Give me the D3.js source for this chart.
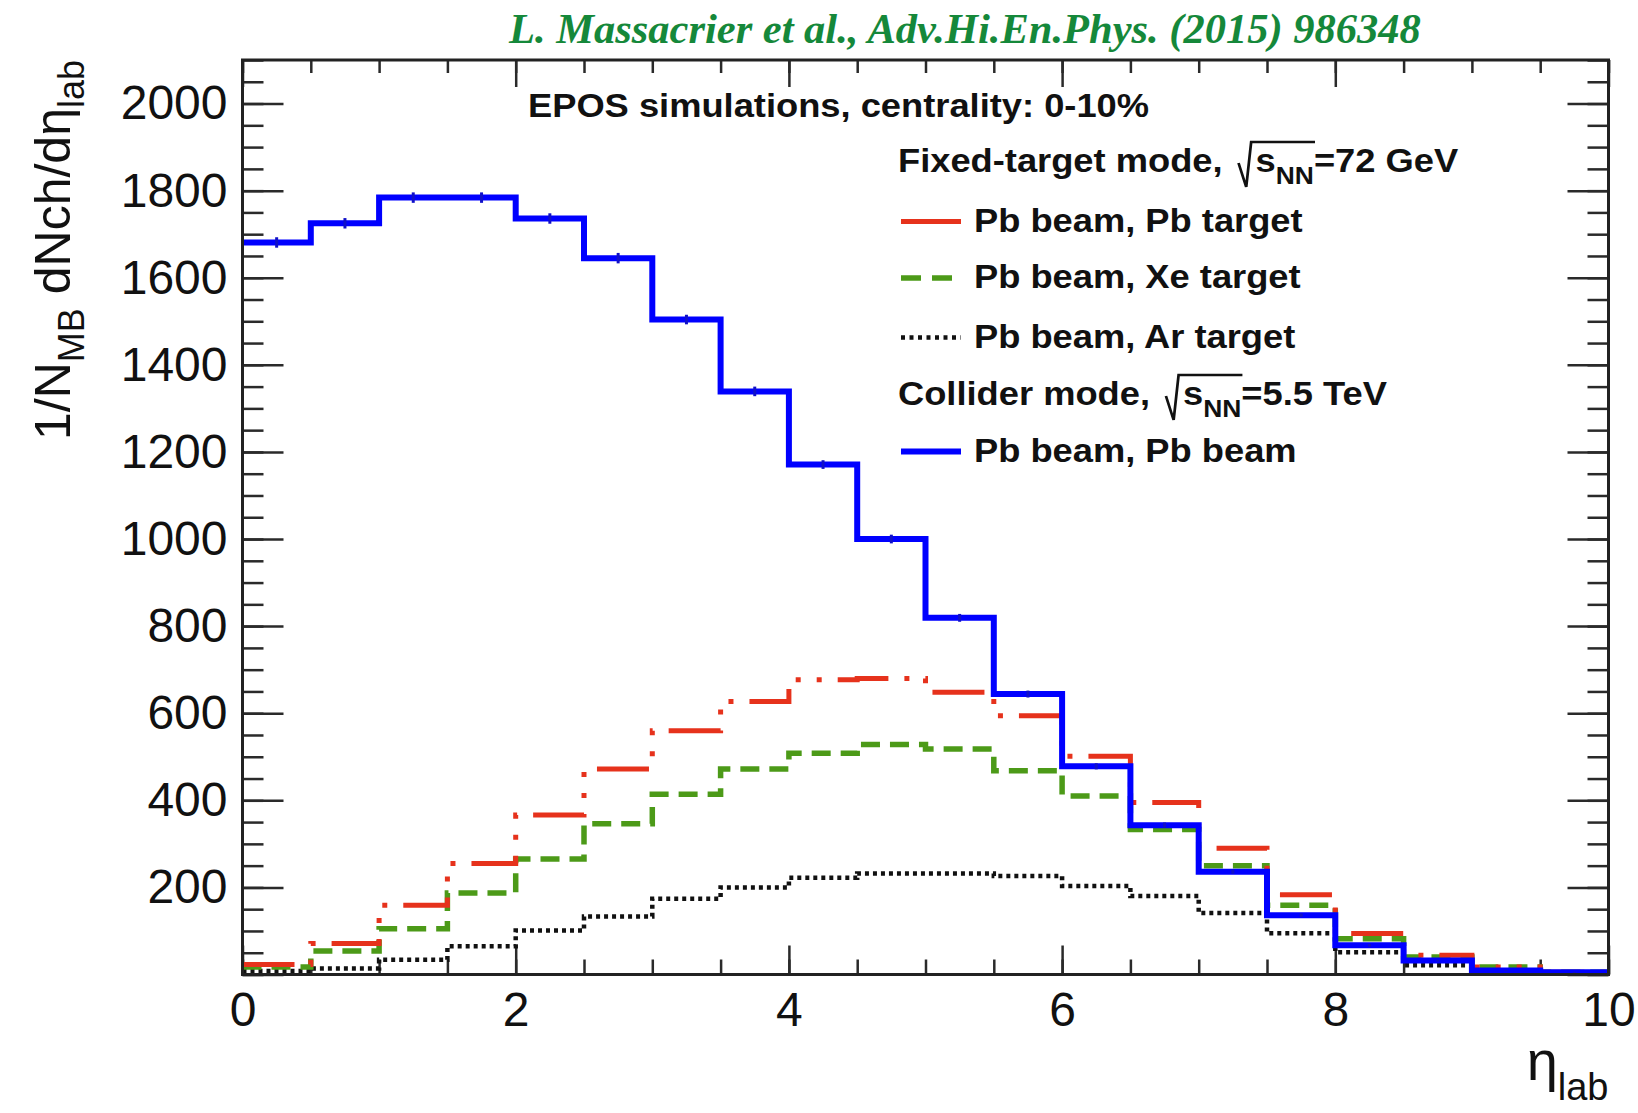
<!DOCTYPE html>
<html>
<head>
<meta charset="utf-8">
<script src="https://cdn.jsdelivr.net/npm/d3@7"></script>
<style>
body { margin: 0; background: #fff; }
</style>
</head>
<body>
<svg id="chart" width="1638" height="1113" font-family="Liberation Sans, Arial, Helvetica, sans-serif"></svg>
<script>
// EPOS, centrality 0-10%: 1/N_MB dNch/deta_lab in 0.5 wide eta_lab bins
var etaEdges = [0, 0.5, 1, 1.5, 2, 2.5, 3, 3.5, 4, 4.5, 5, 5.5, 6, 6.5, 7, 7.5, 8, 8.5, 9, 9.5, 10]
var pbPbFixed = [23, 71, 159, 255, 366, 472, 560, 627, 677, 680, 648, 594, 501, 395, 290, 183, 94, 44, 17, 5]
var pbXeFixed = [17, 54, 105, 187, 265, 346, 414, 472, 508, 528, 518, 468, 410, 333, 250, 159, 82, 40, 17, 5]
var pbArFixed = [8, 14, 34, 65, 101, 133, 174, 200, 222, 232, 232, 226, 203, 180, 141, 95, 51, 21, 5, 2]
var pbPbCollider = [1681, 1725, 1784, 1784, 1736, 1645, 1504, 1339, 1171, 1000, 819, 644, 478, 343, 236, 136, 67, 32, 9, 5]
var pbPbColliderErr = [12, 12, 12, 12, 12, 12, 11, 11, 10, 10, 9, 8, 7, 6, 5, 4, 3, 2, 1, 1]

var xMajor = [0, 2, 4, 6, 8, 10]
var yMajor = [0, 200, 400, 600, 800, 1000, 1200, 1400, 1600, 1800, 2000]

var seriesNames = ["Pb beam, Pb target", "Pb beam, Xe target", "Pb beam, Ar target", "Pb beam, Pb beam"]
var seriesValues = [pbPbFixed, pbXeFixed, pbArFixed, pbPbCollider]
var seriesColors = ["#e6321c", "#4c9a18", "#111111", "#0000ff"]
var seriesDash = ["52 16 5 16 5 16", "19 10", "4 4", null]
var legendDash = [null, "20 11", "4 4.5", null]
var seriesWidth = [5, 5.5, 4.5, 6]
var drawOrder = [2, 1, 0, 3]

var citation = "L. Massacrier et al., Adv.Hi.En.Phys. (2015) 986348"

var svg = d3.select("#chart")
// frame edges (note: "top" is taken by window.top)
var xLeft = 242.5, xRight = 1608.5, yTop = 60, yBottom = 974.5

var x = d3.scaleLinear().domain([0, 10]).range([xLeft, xRight])
var y = d3.scaleLinear().domain([0, 2100]).range([yBottom, yTop])

svg.append("rect").attr("width", 1638).attr("height", 1113).attr("fill", "#fff")

// Axes (ticks on all four sides, pointing inwards)
function styleAxis(g) {
  g.select(".domain").remove()
  g.selectAll(".tick line").attr("stroke", "#2a2a2a").attr("stroke-width", 2.5)
  g.selectAll("text")
    .attr("font-family", "Liberation Sans, Arial, sans-serif")
    .attr("font-size", 48)
    .attr("fill", "#111")
}

var xMinor = d3.range(0, 10.01, 0.5)
var yMinor = d3.range(0, 2101, 50)

svg.append("g").attr("transform", "translate(0," + yBottom + ")")
  .call(d3.axisBottom(x).tickValues(xMinor).tickSize(-15).tickFormat(""))
  .call(styleAxis)
svg.append("g").attr("transform", "translate(0," + yBottom + ")")
  .call(d3.axisBottom(x).tickValues(xMajor).tickSize(-29).tickPadding(17).tickFormat(d3.format("d")))
  .call(styleAxis)
svg.append("g").attr("transform", "translate(0," + yTop + ")")
  .call(d3.axisTop(x).tickValues(xMinor).tickSize(-13).tickFormat(""))
  .call(styleAxis)
svg.append("g").attr("transform", "translate(0," + yTop + ")")
  .call(d3.axisTop(x).tickValues(xMajor).tickSize(-27).tickFormat(""))
  .call(styleAxis)

svg.append("g").attr("transform", "translate(" + xLeft + ",0)")
  .call(d3.axisLeft(y).tickValues(yMinor).tickSize(-21).tickFormat(""))
  .call(styleAxis)
svg.append("g").attr("transform", "translate(" + xLeft + ",0)")
  .call(d3.axisLeft(y).tickValues(yMajor).tickSize(-41).tickPadding(15)
    .tickFormat(function(d) { return d === 0 ? "" : d3.format("d")(d) }))
  .call(styleAxis)
svg.append("g").attr("transform", "translate(" + xRight + ",0)")
  .call(d3.axisRight(y).tickValues(yMinor).tickSize(-21).tickFormat(""))
  .call(styleAxis)
svg.append("g").attr("transform", "translate(" + xRight + ",0)")
  .call(d3.axisRight(y).tickValues(yMajor).tickSize(-41).tickFormat(""))
  .call(styleAxis)

// Histograms
function histPoints(vals) {
  var pts = vals.map(function(v, i) { return [etaEdges[i], v] })
  pts.push([etaEdges[vals.length], vals[vals.length - 1]])
  return pts
}

var step = d3.line()
  .x(function(d) { return x(d[0]) })
  .y(function(d) { return y(d[1]) })
  .curve(d3.curveStepAfter)

drawOrder.forEach(function(k) {
  svg.append("path")
    .attr("d", step(histPoints(seriesValues[k])))
    .attr("fill", "none")
    .attr("stroke", seriesColors[k])
    .attr("stroke-width", seriesWidth[k])
    .attr("stroke-dasharray", seriesDash[k])
    .attr("stroke-linejoin", "miter")
})

// small stat error markers on the collider histogram
svg.append("g").selectAll("line")
  .data(pbPbCollider)
  .enter().append("line")
  .attr("x1", function(d, i) { return x((etaEdges[i] + etaEdges[i + 1]) / 2) })
  .attr("x2", function(d, i) { return x((etaEdges[i] + etaEdges[i + 1]) / 2) })
  .attr("y1", function(d, i) { return y(d - pbPbColliderErr[i]) })
  .attr("y2", function(d, i) { return y(d + pbPbColliderErr[i]) })
  .attr("stroke", "#1010c8")
  .attr("stroke-width", 3)

// Frame
svg.append("rect")
  .attr("x", xLeft).attr("y", yTop)
  .attr("width", xRight - xLeft).attr("height", yBottom - yTop)
  .attr("fill", "none").attr("stroke", "#222").attr("stroke-width", 3)

// Axis titles
var ytitle = svg.append("text")
  .attr("transform", "translate(70," + yTop + ") rotate(-90)")
  .attr("text-anchor", "end")
  .attr("font-size", 50)
  .attr("fill", "#111")
ytitle.append("tspan").text("1/N")
ytitle.append("tspan").attr("font-size", 36).attr("dy", 14).text("MB")
ytitle.append("tspan").attr("dy", -14).text(" dNch/d\u03b7")
ytitle.append("tspan").attr("font-size", 36).attr("dy", 14).text("lab")

var xtitle = svg.append("text")
  .attr("x", xRight).attr("y", 1080)
  .attr("text-anchor", "end")
  .attr("fill", "#111")
xtitle.append("tspan").attr("font-size", 56).text("\u03b7")
xtitle.append("tspan").attr("font-size", 38).attr("dy", 20).text("lab")

// Citation
svg.append("text")
  .attr("x", 509).attr("y", 43)
  .style("font-family", "'Liberation Serif', 'Times New Roman', serif")
  .style("font-style", "italic")
  .style("font-weight", "bold")
  .attr("font-size", 42.5)
  .attr("fill", "#15883a")
  .text(citation)

// Legend (text is slightly wide, so stretch horizontally)
var sx = 1.1
var leg = svg.append("g").attr("transform", "scale(" + sx + ",1)")
  .attr("font-size", 33).attr("font-weight", "bold").attr("fill", "#111")

leg.append("text").attr("x", 528 / sx).attr("y", 117).text("EPOS simulations, centrality: 0-10%")

function sqrtHeader(yb, prefix, suffix) {
  var t = leg.append("text").attr("x", 898 / sx).attr("y", yb)
  t.append("tspan").text(prefix)
  t.append("tspan").attr("dx", 30).text("s")
  t.append("tspan").attr("font-size", 24).attr("dy", 12).text("NN")
  t.append("tspan").attr("dy", -12).text(suffix)
  var n = t.node()
  var x0 = n.getEndPositionOfChar(prefix.length - 1).x
  var x1 = n.getEndPositionOfChar(prefix.length + 2).x
  leg.append("path")
    .attr("d", "M" + (x0 + 14.5) + "," + (yb - 9) + "L" + (x0 + 21.5) + "," + (yb + 15) +
      "L" + (x0 + 26) + "," + (yb - 30) + "L" + (x1 + 1) + "," + (yb - 30))
    .attr("fill", "none").attr("stroke", "#111").attr("stroke-width", 2.5)
}

sqrtHeader(172, "Fixed-target mode,", "=72 GeV")
sqrtHeader(405, "Collider mode,", "=5.5 TeV")

var entryY = [232, 288.5, 348, 462]
seriesNames.forEach(function(name, k) {
  leg.append("text").attr("x", 974 / sx).attr("y", entryY[k]).text(name)
  svg.append("line")
    .attr("x1", 901).attr("x2", 961)
    .attr("y1", entryY[k] - 10.5).attr("y2", entryY[k] - 10.5)
    .attr("stroke", seriesColors[k])
    .attr("stroke-width", seriesWidth[k])
    .attr("stroke-dasharray", legendDash[k])
})
</script>
</body>
</html>
